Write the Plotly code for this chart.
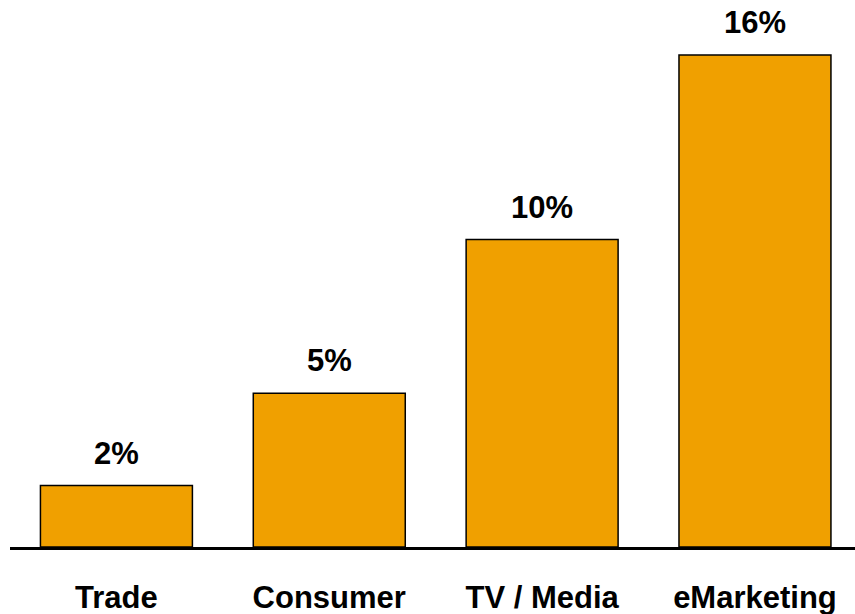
import plotly.graph_objects as go

categories = ["Trade", "Consumer", "TV / Media", "eMarketing"]
values = [2, 5, 10, 16]
value_labels = ["2%", "5%", "10%", "16%"]

BAR_COLOR = "#F0A000"
FONT = "Liberation Sans, Arial, sans-serif"

fig = go.Figure()
fig.add_trace(go.Bar(
    x=categories,
    y=values,
    marker=dict(color=BAR_COLOR, line=dict(color="black", width=1.5)),
    hoverinfo="skip",
))

for cat, v, lab in zip(categories, values, value_labels):
    fig.add_annotation(
        x=cat, y=v, text=f"<b>{lab}</b>", showarrow=False,
        yanchor="bottom", yshift=13,
        font=dict(family=FONT, size=31, color="black"),
    )

fig.update_layout(
    width=855, height=614,
    margin=dict(l=10, r=0, t=0, b=67),
    paper_bgcolor="white", plot_bgcolor="white",
    showlegend=False,
    bargap=0.286,
    xaxis=dict(
        range=[-0.5, 3.47],
        showline=True, linecolor="black", linewidth=3,
        showgrid=False, zeroline=False, ticks="",
        tickfont=dict(family=FONT, size=31, color="black", weight="bold"),
        ticklabelstandoff=21,
    ),
    yaxis=dict(
        range=[0, 17.79], visible=False, showgrid=False, zeroline=False,
    ),
)

fig.write_html("out.html")
